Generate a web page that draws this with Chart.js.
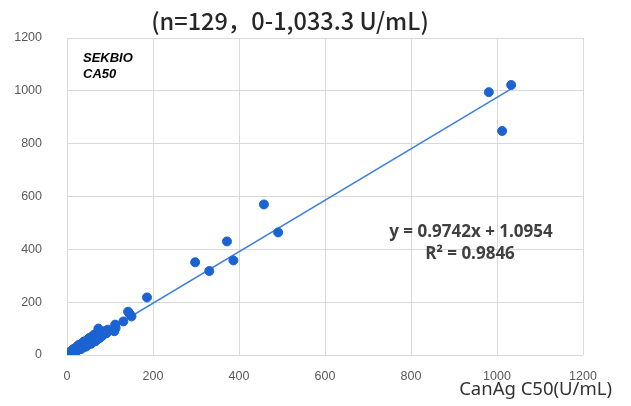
<!DOCTYPE html>
<html>
<head>
<meta charset="utf-8">
<script src="https://cdn.jsdelivr.net/npm/chart.js@4/dist/chart.umd.min.js"></script>
<style>
  html, body { margin: 0; padding: 0; background: #fff; }
  #wrap { width: 631px; height: 406px; }
</style>
</head>
<body>
<div id="wrap"><canvas id="c" width="631" height="406"></canvas></div>
<script>
// SEKBIO CA50 (y) vs CanAg C50 (x), U/mL
const largePoints = [
  [1033, 1022], [981, 995], [1012, 848], [458, 570], [491, 464],
  [372, 430], [387, 358], [298, 351], [331, 318], [186, 218],
  [142, 164], [146, 155], [150, 146], [131, 127], [112, 115],
  [113, 102], [110, 90], [73, 100]
];
const clusterPoints = [
  [0.6, 0.3], [1.2, 0.8], [2.0, 2.5], [2.5, 1.4], [3.1, 5.6], [3.5, 0.9], [3.8, 2.9], [4.2, 7.8],
  [4.9, 1.7], [5.3, 6.1], [5.8, 9.0], [6.0, 2.1], [6.4, 4.2], [6.9, 11.5], [7.3, 3.3], [7.9, 8.8],
  [8.4, 5.1], [8.8, 13.6], [9.3, 8.2], [9.9, 15.0], [10.4, 6.1], [10.8, 12.3], [11.0, 4.5], [11.5, 10.2],
  [12.1, 17.4], [12.6, 8.5], [13.2, 14.6], [13.8, 9.4], [14.3, 19.8], [14.9, 11.7], [15.0, 22.5], [15.6, 17.2],
  [16.2, 11.9], [16.8, 22.3], [17.5, 13.1], [18.1, 24.0], [18.8, 14.3], [19.4, 21.2], [20.1, 15.6], [20.9, 27.8],
  [21.0, 12.8], [21.6, 19.9], [22.3, 29.5], [23.0, 18.3], [23.8, 31.1], [24.6, 19.4], [25.3, 27.6], [26.1, 20.0],
  [26.9, 33.3], [27.0, 38.0], [27.8, 21.7], [28.6, 31.0], [29.5, 23.2], [30.3, 37.8], [31.2, 25.9], [32.0, 34.5],
  [32.9, 26.3], [33.0, 22.5], [33.8, 41.4], [34.7, 28.8], [35.6, 38.1], [36.5, 29.5], [37.4, 45.2], [38.4, 31.0],
  [39.0, 51.0], [39.3, 42.0], [40.3, 32.7], [41.2, 49.1], [42.2, 35.5], [43.1, 46.3], [44.0, 31.5], [44.1, 40.2],
  [45.2, 54.0], [46.2, 38.1], [47.3, 50.4], [48.3, 40.0], [49.4, 58.6], [50.5, 42.8], [51.6, 55.1], [52.0, 65.0],
  [52.7, 44.9], [53.9, 62.3], [55.0, 47.2], [56.0, 42.5], [56.2, 66.0], [57.4, 49.1], [58.6, 68.8], [59.8, 51.6],
  [61.0, 65.2], [62.0, 75.5], [62.3, 53.0], [63.6, 72.1], [64.9, 55.3], [66.0, 52.0], [66.2, 76.5], [67.5, 58.8],
  [68.9, 73.4], [70.0, 84.5], [70.3, 60.2], [71.7, 79.0], [73.1, 62.5], [74.6, 83.1], [76.0, 65.0], [77.5, 86.8],
  [79.0, 69.3], [80.5, 88.0], [82.0, 72.5], [85.0, 80.0], [88.0, 90.5], [92.0, 82.5], [95.0, 96.0]
];
const slope = 0.9742;
const intercept = 1.0954;
const rSquared = 0.9846;
const axisTicks = [0, 200, 400, 600, 800, 1000, 1200];

const points = largePoints.concat(clusterPoints).map(p => ({ x: p[0], y: p[1] }));
const xMax = Math.max(...points.map(p => p.x));
const trend = [0, xMax].map(x => ({ x, y: slope * x + intercept }));

const textPlugin = {
  id: "texts",
  afterDraw(chart) {
    const ctx = chart.ctx;
    ctx.save();
    ctx.textBaseline = "middle";

    ctx.fillStyle = "#262626";
    ctx.textAlign = "center";
    ctx.font = "500 23.5px 'Noto Sans CJK SC', 'Noto Sans', sans-serif";
    ctx.fillText("(n=129，0-1,033.3 U/mL)", 290, 21);

    ctx.fillStyle = "#000";
    ctx.textAlign = "left";
    ctx.font = "italic bold 13px 'Liberation Sans', Arial, sans-serif";
    ctx.fillText("SEKBIO", 83, 58);
    ctx.fillText("CA50", 83, 74);

    ctx.fillStyle = "#404040";
    ctx.textAlign = "center";
    ctx.font = "bold 17px 'Open Sans', 'Noto Sans', sans-serif";
    ctx.fillText("y = " + slope + "x + " + intercept, 471, 232);
    ctx.fillText("R² = " + rSquared, 470, 254);

    ctx.fillStyle = "#333";
    ctx.textAlign = "right";
    ctx.font = "18.5px 'Noto Sans', sans-serif";
    ctx.fillText("CanAg C50(U/mL)", 612, 390);
    ctx.restore();
  }
};

const gridColor = "#d9d9d9";
const tickFont = { family: "'Liberation Sans', Arial, sans-serif", size: 12.5 };

new Chart(document.getElementById("c").getContext("2d"), {
  type: "scatter",
  data: {
    datasets: [
      {
        label: "trend",
        type: "line",
        data: trend,
        borderColor: "#3a7fdc",
        borderWidth: 1.5,
        pointRadius: 0,
        fill: false,
        order: 2
      },
      {
        label: "SEKBIO CA50",
        data: points,
        backgroundColor: "#1b63d2",
        borderColor: "#1b63d2",
        pointRadius: 4.5,
        order: 1
      }
    ]
  },
  options: {
    responsive: false,
    animation: false,
    layout: { padding: { top: 38, right: 48, left: 0, bottom: 0 } },
    scales: {
      x: {
        type: "linear",
        min: 0,
        max: 1200,
        afterBuildTicks: s => { s.ticks = axisTicks.map(v => ({ value: v })); },
        afterFit: s => { s.height = 51; },
        grid: { color: gridColor, drawTicks: false },
        border: { display: false },
        ticks: { color: "#595959", font: tickFont, padding: 14, callback: v => String(v) }
      },
      y: {
        type: "linear",
        min: 0,
        max: 1200,
        afterBuildTicks: s => { s.ticks = axisTicks.map(v => ({ value: v })); },
        afterFit: s => { s.width = 67; },
        grid: { color: gridColor, drawTicks: false },
        border: { display: false },
        ticks: { color: "#595959", font: tickFont, padding: 25, callback: v => String(v) }
      }
    },
    plugins: {
      legend: { display: false },
      tooltip: { enabled: false }
    }
  },
  plugins: [textPlugin]
});
</script>
</body>
</html>
